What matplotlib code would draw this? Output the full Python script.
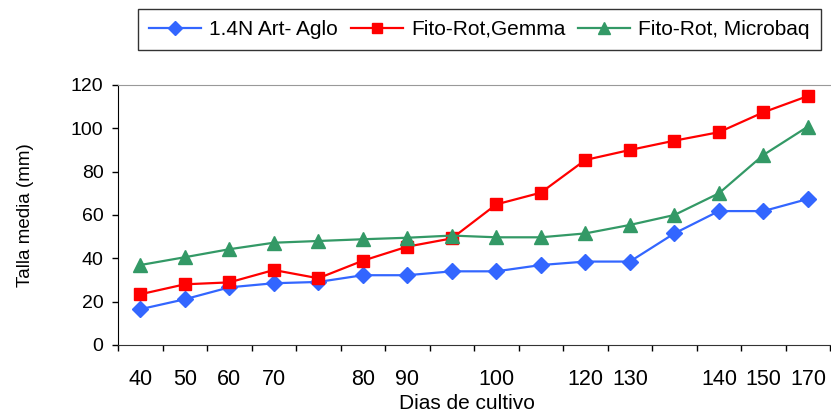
import matplotlib
matplotlib.use("Agg")
import matplotlib.pyplot as plt
import numpy as np

plt.rcParams['font.family'] = ['Liberation Sans', 'DejaVu Sans']

# categorias (dias de cultivo), algunas sin etiqueta en el eje
dias = ["40", "50", "60", "70", "", "80", "90", "", "100", "", "120", "130", "", "140", "150", "170"]

aglo = [16.5, 21.1, 26.6, 28.5, 29.1, 32.2, 32.2, 34.0, 34.0, 36.9, 38.5, 38.5, 51.5, 61.8, 61.8, 67.4]
gemma = [23.4, 28.0, 28.9, 34.6, 30.8, 38.9, 45.4, 49.2, 64.9, 70.3, 85.4, 90.0, 94.3, 98.2, 107.4, 114.9]
microbaq = [36.9, 40.5, 44.2, 47.2, 48.0, 48.8, 49.5, 50.5, 49.7, 49.7, 51.5, 55.4, 60.0, 70.0, 87.7, 100.8]

x = np.arange(len(dias))

fig = plt.figure(figsize=(8.31, 4.16), dpi=100)
ax = fig.add_axes([0.142, 0.1707, 0.857, 0.625])

ax.plot(x, aglo, color='#3366FF', lw=1.6, marker='D', ms=8, label='1.4N Art- Aglo')
ax.plot(x, gemma, color='#FF0000', lw=1.6, marker='s', ms=8, label='Fito-Rot,Gemma')
ax.plot(x, microbaq, color='#339966', lw=1.6, marker='^', ms=9.5, label='Fito-Rot, Microbaq')

ax.set_xlim(-0.5, len(dias) - 0.5)
ax.set_ylim(0, 120)
ax.set_yticks(np.arange(0, 121, 20))
ax.tick_params(axis='y', labelsize=14, length=4.5, width=1, pad=6, direction='out')

# marcas en los limites de categoria, etiquetas en el centro
ax.set_xticks(np.arange(-0.5, len(dias), 1))
ax.set_xticklabels([])
ax.tick_params(axis='x', which='major', length=4, width=1, direction='out')
ax.set_xticks(x, dias, minor=True)
ax.tick_params(axis='x', which='minor', length=0, labelsize=15.5, pad=17)

ax.spines['top'].set_color('#999999')
ax.spines['right'].set_visible(False)
ax.spines['left'].set_color('black')
ax.spines['bottom'].set_color('#333333')

ax.set_ylabel('Talla media (mm)', fontsize=13.5)
ax.yaxis.set_label_coords(-0.118, 0.5)
ax.set_xlabel('Dias de cultivo', fontsize=15)
ax.xaxis.set_label_coords(0.49, -0.19)

leg = fig.legend(loc='upper center', bbox_to_anchor=(0.577, 0.978), ncol=3,
                 fontsize=15, frameon=True, fancybox=False, edgecolor='black',
                 handlelength=2.5, handletextpad=0.4, columnspacing=0.6,
                 borderpad=0.52, borderaxespad=0, markerscale=0.9)
leg.get_frame().set_linewidth(1)

fig.savefig('out.png', dpi=100)
